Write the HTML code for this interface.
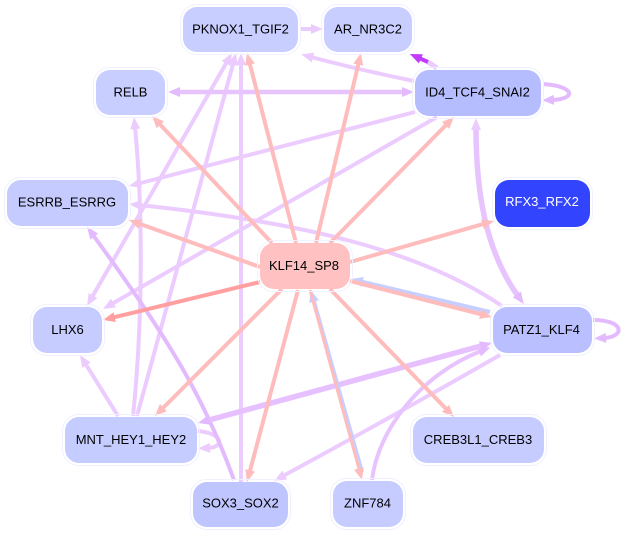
<!DOCTYPE html>
<html><head><meta charset="utf-8"><style>
html,body{margin:0;padding:0;background:#fff}
svg{display:block}
text{font-family:"Liberation Sans",sans-serif;font-size:13px;text-anchor:middle;fill:#000}
.n{stroke:none}
.o{fill:none;stroke:#f0f1ff;stroke-width:1}
path{fill:none}
</style></head><body>
<svg width="622" height="533" viewBox="0 0 622 533" xmlns="http://www.w3.org/2000/svg">
<defs>
<marker id="p" markerUnits="userSpaceOnUse" markerWidth="14" markerHeight="14" refX="2" refY="7" orient="auto-start-reverse" overflow="visible"><polygon points="0,2 12,7 0,12" fill="#ffbcbc"/></marker>
<marker id="r" markerUnits="userSpaceOnUse" markerWidth="14" markerHeight="14" refX="2" refY="7" orient="auto-start-reverse" overflow="visible"><polygon points="0,2 12,7 0,12" fill="#ff9f9f"/></marker>
<marker id="l" markerUnits="userSpaceOnUse" markerWidth="14" markerHeight="14" refX="2" refY="7" orient="auto-start-reverse" overflow="visible"><polygon points="0,2 12,7 0,12" fill="#ecccff"/></marker>
<marker id="m" markerUnits="userSpaceOnUse" markerWidth="14" markerHeight="14" refX="2" refY="7" orient="auto-start-reverse" overflow="visible"><polygon points="0,2 12,7 0,12" fill="#e4baff"/></marker>
<marker id="b" markerUnits="userSpaceOnUse" markerWidth="14" markerHeight="14" refX="2" refY="7" orient="auto-start-reverse" overflow="visible"><polygon points="0,2 12,7 0,12" fill="#c6cfff"/></marker>
<marker id="v" markerUnits="userSpaceOnUse" markerWidth="14" markerHeight="14" refX="2" refY="7" orient="auto-start-reverse" overflow="visible"><polygon points="0,2 12,7 0,12" fill="#c23cff"/></marker>
</defs>

<!-- lilac edges -->
<g stroke="#ecccff" stroke-width="4">
<path d="M300,29 L313,29" marker-end="url(#l)"/>
<path d="M414,81 Q360,70 311,57" marker-end="url(#l)"/>
<path d="M415,112 L138.7,183.5" marker-end="url(#l)"/>
<path d="M437,117 L111.7,304" marker-end="url(#l)"/>
<path d="M502,306 C420,250 300,222 139,205" marker-end="url(#l)"/>
<path d="M500,355 Q390,418 283,476" marker-end="url(#l)"/>
<path d="M133,416 C143,320 143,210 135,127" marker-end="url(#l)"/>
<path d="M137,416 L233.4,62.7" marker-end="url(#l)"/>
<path d="M92,297.3 L227,61.7" marker-start="url(#l)" marker-end="url(#l)"/>
<path d="M241,482 L241,63" marker-end="url(#l)"/>
<path d="M118,416 L85.3,363.5" marker-end="url(#l)"/>
<path d="M198,431 C222,433 226,447 208,448" marker-end="url(#l)"/>
<path d="M437,68 L428,62" stroke-width="5"/>
</g>
<g stroke="#e4baff" stroke-width="4">
<path d="M178,92 L404,92" stroke="#e8c4ff" stroke-width="4.5" marker-start="url(#m)" marker-end="url(#m)"/>
<path d="M234,480 C205,400 170,340 93,235" marker-end="url(#m)"/>
<path d="M372,480 C378,430 420,375 481,351" stroke="#e8c4ff" marker-end="url(#m)"/>
<path d="M543,84 C575,86 577,99 552,100" marker-end="url(#m)"/>
<path d="M593,320 C625,320 625,337 604,338" marker-end="url(#m)"/>
<path d="M476,128 C476,190 485,250 518,296" stroke="#e8c4ff" stroke-width="5.5" marker-start="url(#l)" marker-end="url(#m)"/>
<path d="M207.6,420.4 L482.3,345.6" stroke="#e6c0ff" stroke-width="5.5" marker-start="url(#m)" marker-end="url(#m)"/>
</g>
<path d="M428,62 L419,58" stroke="#c23cff" stroke-width="4" marker-end="url(#v)"/>

<!-- blue edges -->
<g stroke="#c6cfff" stroke-width="4">
<path d="M490,312 L360.7,281.4" marker-end="url(#b)"/>
<path d="M362,472 L313.5,299.7" marker-end="url(#b)"/>
</g>

<!-- pink edges -->
<g stroke="#ffbcbc" stroke-width="4">
<path d="M296,243 L249.5,62.7" marker-end="url(#p)"/>
<path d="M316,243 L358.7,62.7" marker-end="url(#p)"/>
<path d="M330,243 L447,124" marker-end="url(#p)"/>
<path d="M272,243 L158.9,123.3" marker-end="url(#p)"/>
<path d="M260,267 L138.4,223.4" marker-end="url(#p)"/>
<path d="M350,262 L484.4,223.7" marker-end="url(#p)"/>
<path d="M350,281 L482.3,314.5" marker-end="url(#p)"/>
<path d="M260,282 L112.7,317.6" stroke="#ff9f9f" marker-end="url(#r)"/>
<path d="M282,289 L162,409" marker-end="url(#p)"/>
<path d="M298,290 L249.6,472.3" marker-end="url(#p)"/>
<path d="M310,290 L359.4,470.4" stroke-width="3" marker-end="url(#p)"/>
<path d="M330,289 L447,409.8" marker-end="url(#p)"/>
</g>

<!-- nodes -->
<rect class="o" x="180.5" y="4.5" width="120" height="50" rx="16"/><rect class="n" x="183" y="7" width="115" height="45" rx="14" fill="#c8ceff"/>
<text x="240.5" y="33.5">PKNOX1_TGIF2</text>
<rect class="o" x="321.5" y="4.5" width="93" height="50" rx="16"/><rect class="n" x="324" y="7" width="88" height="45" rx="14" fill="#c8ceff"/>
<text x="368" y="33.5">AR_NR3C2</text>
<rect class="o" x="93.5" y="67.5" width="74" height="50" rx="16"/><rect class="n" x="96" y="70" width="69" height="45" rx="14" fill="#c8ceff"/>
<text x="130.5" y="96.5">RELB</text>
<rect class="o" x="412.5" y="67.5" width="131" height="51" rx="16"/><rect class="n" x="415" y="70" width="126" height="46" rx="14" fill="#b5bdff"/>
<text x="477.5" y="96.5">ID4_TCF4_SNAI2</text>
<rect class="o" x="4.5" y="177.5" width="126" height="51" rx="16"/><rect class="n" x="7" y="180" width="121" height="46" rx="14" fill="#c5cbff"/>
<text x="67" y="206.5">ESRRB_ESRRG</text>
<rect class="o" x="492.5" y="177.5" width="100" height="52" rx="16"/><rect class="n" x="495" y="180" width="95" height="47" rx="14" fill="#3344ff"/>
<text x="542" y="206" style="fill:#fff">RFX3_RFX2</text>
<rect class="o" x="257.5" y="240.5" width="95" height="51" rx="16"/><rect class="n" x="260" y="243" width="90" height="46" rx="14" fill="#ffc1c1"/>
<text x="304" y="270">KLF14_SP8</text>
<rect class="o" x="490.5" y="304.5" width="104" height="51" rx="16"/><rect class="n" x="493" y="307" width="99" height="46" rx="14" fill="#b9bfff"/>
<text x="541.5" y="334">PATZ1_KLF4</text>
<rect class="o" x="30.5" y="304.5" width="74" height="51" rx="16"/><rect class="n" x="33" y="307" width="69" height="46" rx="14" fill="#c6ccff"/>
<text x="67.5" y="334">LHX6</text>
<rect class="o" x="62.5" y="414.5" width="137" height="51" rx="16"/><rect class="n" x="65" y="417" width="132" height="46" rx="14" fill="#c5ccff"/>
<text x="131" y="444">MNT_HEY1_HEY2</text>
<rect class="o" x="410.5" y="414.5" width="136" height="51" rx="16"/><rect class="n" x="413" y="417" width="131" height="46" rx="14" fill="#c6ccff"/>
<text x="478" y="444">CREB3L1_CREB3</text>
<rect class="o" x="190.5" y="479.5" width="100" height="50" rx="16"/><rect class="n" x="193" y="482" width="95" height="45" rx="14" fill="#bfc5ff"/>
<text x="240.5" y="507.5">SOX3_SOX2</text>
<rect class="o" x="330.5" y="478.5" width="75" height="51" rx="16"/><rect class="n" x="333" y="481" width="70" height="46" rx="14" fill="#c6ccff"/>
<text x="367.5" y="507.5">ZNF784</text>
</svg>
</body></html>
